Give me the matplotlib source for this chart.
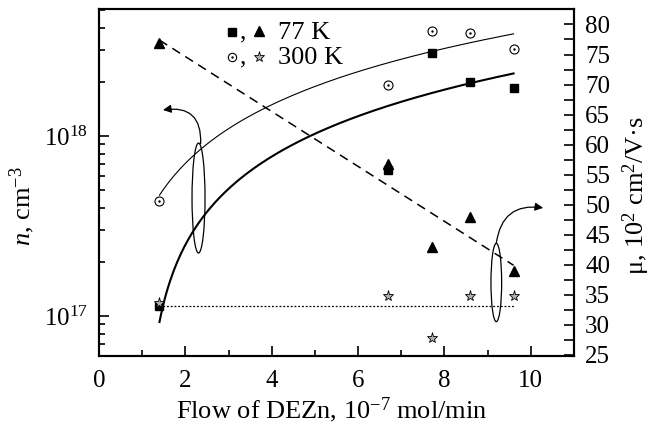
import numpy as np
import matplotlib
matplotlib.use("Agg")
import matplotlib.pyplot as plt
from matplotlib.patches import Ellipse
from matplotlib.ticker import MultipleLocator, LogLocator, LogFormatterMathtext, NullFormatter

plt.rcParams['font.family'] = ['Liberation Serif', 'DejaVu Serif']
plt.rcParams['mathtext.fontset'] = 'custom'
plt.rcParams['mathtext.rm'] = 'Liberation Serif'
plt.rcParams['mathtext.it'] = 'Liberation Serif:italic'

# data
flow = np.array([1.4, 6.7, 7.7, 8.6, 9.6])               # 10^-7 mol/min
n_77 = np.array([1.14e17, 6.5e17, 2.88e18, 2.0e18, 1.85e18])   # cm^-3, squares
n_300 = np.array([4.36e17, 1.92e18, 3.83e18, 3.75e18, 3.04e18])  # circles
mu_77 = np.array([77.0, 56.8, 43.0, 47.9, 38.9])          # 10^2 cm2/Vs, triangles
mu_300 = np.array([33.6, 34.8, 27.9, 34.8, 34.8])         # stars

fig = plt.figure(figsize=(6.61, 4.30), dpi=100)
ax = fig.add_axes([0.1498, 0.1721, 0.7186, 0.8069])
ax2 = ax.twinx()

# fitted curves for concentration (linear in n)
xf = np.linspace(flow.min(), flow.max(), 200)
p77 = np.polyfit(flow, n_77, 1)
p300 = np.polyfit(flow, n_300, 1)
ax.plot(xf, np.polyval(p77, xf), color='black', lw=1.5)
ax.plot(xf, np.polyval(p300, xf), color='black', lw=0.8)

ax.plot(flow, n_77, ls='none', marker='s', ms=6, color='black')
ax.plot(flow, n_300, ls='none', marker='o', ms=6.5, mfc='white', mec='black', mew=0.8)
ax.plot(flow, n_300, ls='none', marker='.', ms=1.5, color='black')

# mobility: linear fit (dashed) and mean (dotted)
pm = np.polyfit(flow, mu_77, 1)
ax2.plot(flow[[0, -1]], np.polyval(pm, flow[[0, -1]]), color='black', lw=1.1, ls=(0, (6, 4)))
ax2.plot(flow[[0, -1]], [mu_300.mean()] * 2, color='black', lw=0.9, ls=(0, (1.5, 1.5)))
ax2.plot(flow, mu_77, ls='none', marker='^', ms=7, color='black')
ax2.plot(flow, mu_300, ls='none', marker='*', ms=8, mfc='#b0b0b0', mec='black', mew=0.6)

ax.set_xlim(0, 11)
ax.set_yscale('log')
ax.set_ylim(6.0e16, 5.08e18)
ax2.set_ylim(24.83, 82.57)

ax.xaxis.set_major_locator(MultipleLocator(2))
ax.xaxis.set_minor_locator(MultipleLocator(1))
ax.yaxis.set_major_locator(LogLocator(base=10))
ax.yaxis.set_minor_locator(LogLocator(base=10, subs=np.arange(2, 10)))
ax.yaxis.set_major_formatter(LogFormatterMathtext())
ax.yaxis.set_minor_formatter(NullFormatter())
ax2.yaxis.set_major_locator(MultipleLocator(5))
ax2.yaxis.set_minor_locator(MultipleLocator(2.5))

ax.tick_params(which='both', direction='in', top=False, right=False, width=1.2, labelsize=18, pad=8)
ax.tick_params(axis='x', pad=10)
ax.tick_params(which='major', length=7)
ax.tick_params(which='minor', length=4)
ax2.tick_params(which='both', direction='in', width=1.2, labelsize=18, pad=8)
ax2.tick_params(which='major', length=7)
ax2.tick_params(which='minor', length=7)
for a in (ax, ax2):
    for s in a.spines.values():
        s.set_linewidth(1.5)

ax.set_xlabel('Flow of DEZn, 10$^{-7}$ mol/min', fontsize=19)
ax.xaxis.set_label_coords(0.49, -0.115)
ax.set_ylabel('$n$, cm$^{-3}$', fontsize=19)
ax.yaxis.set_label_coords(-0.13, 0.432)
ax2.set_ylabel('μ, 10$^2$ cm$^2$/V·s', fontsize=19, rotation=90)
ax2.yaxis.set_label_coords(1.097, 0.464)

# legend-like header
tr = ax.transAxes
ax.plot([0.2794], [0.9337], 's', ms=6, color='black', transform=tr, clip_on=False)
ax.plot([0.3368], [0.9360], '^', ms=7, color='black', transform=tr, clip_on=False)
ax.text(0.297, 0.915, ',', transform=tr, fontsize=18, ha='left', va='baseline')
ax.text(0.3768, 0.915, '77 K', transform=tr, fontsize=19, ha='left', va='baseline')
ax.plot([0.2794], [0.8617], 'o', ms=6, mfc='white', mec='black', mew=0.8, transform=tr, clip_on=False)
ax.plot([0.2794], [0.8617], '.', ms=1.5, color='black', transform=tr, clip_on=False)
ax.plot([0.3368], [0.8617], '*', ms=8, mfc='#b0b0b0', mec='black', mew=0.6, transform=tr, clip_on=False)
ax.text(0.297, 0.843, ',', transform=tr, fontsize=18, ha='left', va='baseline')
ax.text(0.3768, 0.843, '300 K', transform=tr, fontsize=19, ha='left', va='baseline')

# ellipses with curved arrows to their axes
ax.add_patch(Ellipse((0.2095, 0.4553), 0.0274, 0.317, transform=tr, fill=False, lw=0.9, ec='black'))
ax.annotate('', xy=(0.1347, 0.709), xytext=(0.214, 0.612), xycoords=tr, textcoords=tr,
            arrowprops=dict(arrowstyle='-|>', color='black', lw=0.9, mutation_scale=12,
                            shrinkA=0, shrinkB=0, connectionstyle='arc3,rad=0.6'))
ax.add_patch(Ellipse((0.8364, 0.2118), 0.0225, 0.226, transform=tr, fill=False, lw=0.9, ec='black'))
ax.annotate('', xy=(0.935, 0.427), xytext=(0.8364, 0.3248), xycoords=tr, textcoords=tr,
            arrowprops=dict(arrowstyle='-|>', color='black', lw=0.9, mutation_scale=12,
                            shrinkA=0, shrinkB=0, connectionstyle='arc3,rad=-0.5'))

fig.savefig('out.png', dpi=100)
